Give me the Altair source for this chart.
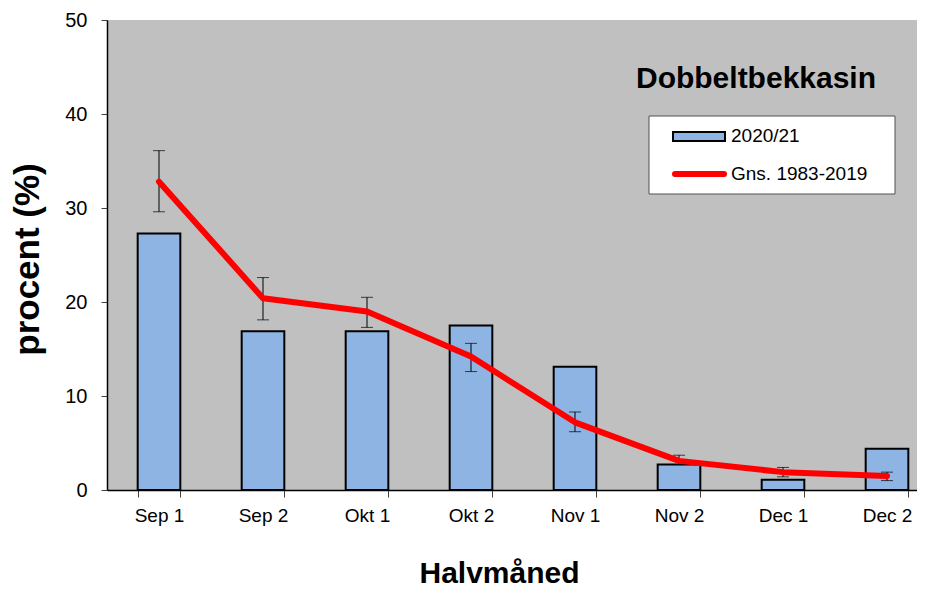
import altair as alt
import pandas as pd

# ---- data ----
periods = ["Sep 1", "Sep 2", "Okt 1", "Okt 2", "Nov 1", "Nov 2", "Dec 1", "Dec 2"]
season_2020 = [27.3, 16.9, 16.9, 17.5, 13.1, 2.7, 1.1, 4.4]
avg_1983_2019 = [32.8, 20.4, 19.0, 14.2, 7.2, 3.1, 1.9, 1.5]
err_low = [29.6, 18.1, 17.3, 12.6, 6.2, 2.7, 1.4, 1.0]
err_high = [36.1, 22.6, 20.5, 15.6, 8.3, 3.7, 2.4, 1.9]
y_ticks = [0, 10, 20, 30, 40, 50]
series_names = ["2020/21", "Gns. 1983-2019"]
species = "Dobbeltbekkasin"
x_title = "Halvmåned"
y_title = "procent (%)"

df = pd.DataFrame({
    "period": periods,
    "idx": list(range(len(periods))),
    "season": season_2020,
    "avg": avg_1983_2019,
    "lo": err_low,
    "hi": err_high,
})
one = pd.DataFrame({"k": [0]})

FONT = "Liberation Sans"
BLUE = "#8EB4E3"
RED = "#FF0000"

x_enc = alt.X(
    "period:N",
    sort=periods,
    scale=alt.Scale(range=[0, 832], paddingInner=0.59, paddingOuter=0.295),
    axis=alt.Axis(
        title=x_title, labelAngle=0, tickBand="extent", labelFontSize=19,
        labelFont=FONT, labelColor="black", labelPadding=9, tickSize=7,
        tickColor="#404040", domainColor="black", domainWidth=1.5,
        titleFontSize=30, titleFont=FONT, titleFontWeight="bold",
        titleColor="black", titleX=392, titleY=92, titleBaseline="alphabetic",
        titleAlign="center", grid=False,
    ),
)

y_axis = alt.Axis(
    values=y_ticks, title=y_title, labelFontSize=20, labelFont=FONT,
    labelColor="black", labelPadding=14, tickSize=6, tickColor="#404040",
    domainColor="black", domainWidth=1.5, titleFontSize=35, titleFont=FONT,
    titleFontWeight="bold", titleColor="black", titleAngle=-90,
    titleX=-69, titleY=239, titleBaseline="alphabetic", titleAlign="center",
    grid=False,
)
y_scale = alt.Scale(domain=[0, 50], nice=False)


def yenc(field):
    return alt.Y(f"{field}:Q", scale=y_scale, axis=y_axis, title=y_title)


base = alt.Chart(df).encode(x=x_enc)

bars = base.mark_bar(fill=BLUE, stroke="black", strokeWidth=2).encode(y=yenc("season"))
err_rule = base.mark_rule(color="black", strokeWidth=1).encode(y=yenc("lo"), y2=alt.Y2("hi:Q"))
cap_lo = base.mark_tick(color="black", thickness=1, size=12).encode(y=yenc("lo"))
cap_hi = base.mark_tick(color="black", thickness=1, size=12).encode(y=yenc("hi"))
line = base.mark_line(color=RED, strokeWidth=6, strokeCap="round", strokeJoin="round").encode(
    y=yenc("avg"), order=alt.Order("idx:Q")
)

# ---- legend box and title (decorations) ----
box = alt.Chart(one).mark_rect(fill="white", stroke="#505050", strokeWidth=1).encode(
    x=alt.value(542), x2=alt.value(788), y=alt.value(96), y2=alt.value(174)
)
sym = alt.Chart(one).mark_rect(fill=BLUE, stroke="black", strokeWidth=2).encode(
    x=alt.value(566), x2=alt.value(618), y=alt.value(112), y2=alt.value(121)
)
lab1 = alt.Chart(one).mark_text(align="left", baseline="middle", fontSize=19, font=FONT, color="black").encode(
    x=alt.value(624), y=alt.value(116), text=alt.value(series_names[0])
)
legline = alt.Chart(one).mark_rule(color=RED, strokeWidth=6, strokeCap="round").encode(
    x=alt.value(568), x2=alt.value(617), y=alt.value(154)
)
lab2 = alt.Chart(one).mark_text(align="left", baseline="middle", fontSize=19, font=FONT, color="black").encode(
    x=alt.value(624), y=alt.value(154), text=alt.value(series_names[1])
)
title = alt.Chart(one).mark_text(align="center", baseline="alphabetic", fontSize=30, font=FONT,
                                 fontWeight="bold", color="black").encode(
    x=alt.value(649), y=alt.value(68), text=alt.value(species)
)

chart = alt.layer(
    bars, err_rule, cap_lo, cap_hi, line, box, sym, lab1, legline, lab2, title
).properties(
    width=810, height=470,
    autosize=alt.AutoSizeParams(type="none"),
    padding={"left": 99, "top": 12, "right": 0, "bottom": 100},
    background="white",
).configure_view(fill="#C0C0C0", stroke=None)

chart.save("out.html", embed_options={"renderer": "svg", "actions": False})
